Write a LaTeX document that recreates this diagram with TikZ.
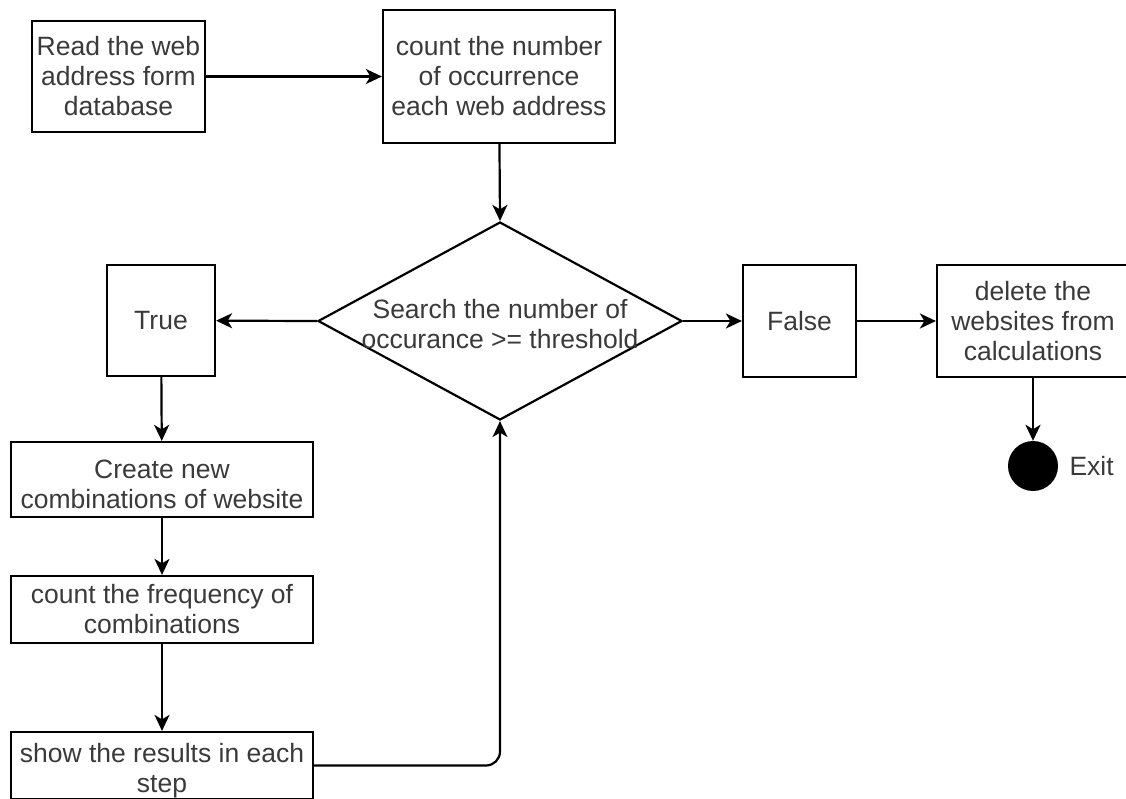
\documentclass[tikz,border=0pt]{standalone}
\usepackage{fontspec}
\setmainfont{Liberation Sans}
\usetikzlibrary{shapes.geometric,arrows.meta}
\definecolor{txt}{HTML}{3A3A3A}
\tikzset{
  every node/.style={font=\fontsize{26.5}{30}\selectfont, text=txt, align=center},
  box/.style={draw=black, line width=2.2pt, inner sep=0pt, rectangle},
  conn/.style={draw=black, line width=2.2pt, -{Stealth[length=16pt,width=15pt,inset=4.5pt]}},
}
\begin{document}
\begin{tikzpicture}[x=1pt,y=-1pt]
\useasboundingbox (0,0) rectangle (1126,798);
\clip (0,0) rectangle (1126,798);
\node[box, minimum width=173pt, minimum height=111pt] (read) at (118.5,76.5) {Read the web\\address form\\database};
\node[box, minimum width=232pt, minimum height=133pt] (count) at (499,76.5) {count the number\\of occurrence\\each web address};
\node[draw=black, line width=2.2pt, shape=diamond, minimum width=364pt, minimum height=198pt, inner sep=0pt] (dec) at (500,321) {};
\node (dectext) at (500,324) {Search the number of\\occurance >= threshold};
\node[box, minimum width=108pt, minimum height=111pt] (true) at (161,320.5) {True};
\node[box, minimum width=113pt, minimum height=112pt] (false) at (799.5,321) {False};
\node[box, minimum width=192pt, minimum height=112pt] (delete) at (1033,321) {delete the\\websites from\\calculations};
\node[circle, fill=black, minimum size=50pt, inner sep=0pt] (exit) at (1033,466) {};
\node[anchor=west] (exitlabel) at (1066,466) {Exit};
\node[box, minimum width=302pt, minimum height=75pt] (create) at (162,479.5) {};
\node (createtext) at (162,484.5) {Create new\\combinations of website};
\node[box, minimum width=302pt, minimum height=67pt] (freq) at (162,609.5) {count the frequency of\\combinations};
\node[box, minimum width=302pt, minimum height=67pt] (show) at (162,765.5) {};
\node (showtext) at (162,771) {show the results in each\\step};
\coordinate (corner) at (dec.south |- show.east);
\draw[conn] (read) -- (count);
\draw[conn] (count) -- (dec.north);
\draw[conn] (dec.west) -- (true);
\draw[conn] (dec.east) -- (false);
\draw[conn] (false) -- (delete);
\draw[conn] (delete) -- (exit);
\draw[conn] (true) -- (create);
\draw[conn] (create) -- (freq);
\draw[conn] (freq) -- (show);
\draw[conn, rounded corners=14pt] (show.east) -- (corner) -- (dec.south);
\end{tikzpicture}
\end{document}
